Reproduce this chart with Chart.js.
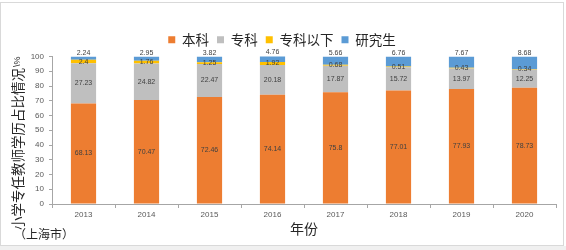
<!DOCTYPE html>
<html>
<head>
<meta charset="utf-8">
<script src="https://cdn.jsdelivr.net/npm/chart.js@4.4.0/dist/chart.umd.min.js"></script>
<style>
  body { margin: 0; background: #fff; }
  #wrap { position: absolute; left: 0; top: 2px; width: 562px; height: 242px; border: 1px solid #d9d9d9; }
  #band { position: absolute; left: 0; top: 246px; width: 566px; height: 4px; background: #f0f0f0; }
</style>
</head>
<body>
<div id="wrap"><canvas id="chart" width="562" height="242"></canvas></div>
<div id="band"></div>
<script>
// chart data
const years = ['2013', '2014', '2015', '2016', '2017', '2018', '2019', '2020'];
const bachelor = [68.13, 70.47, 72.46, 74.14, 75.8, 77.01, 77.93, 78.73];
const college = [27.23, 24.82, 22.47, 20.18, 17.87, 15.72, 13.97, 12.25];
const belowCollege = [2.4, 1.76, 1.25, 1.92, 0.68, 0.51, 0.43, 0.34];
const graduate = [2.24, 2.95, 3.82, 4.76, 5.66, 6.76, 7.67, 8.68];
const seriesNames = ['本科', '专科', '专科以下', '研究生'];
const yTicks = [0, 10, 20, 30, 40, 50, 60, 70, 80, 90, 100];

const colors = ['#ED7D31', '#BFBFBF', '#FFC000', '#5B9BD5'];
const cjk = '"Noto Sans CJK SC", sans-serif';
const latin = '"Liberation Sans", Arial, sans-serif';

// value labels drawn on the bars (no datalabels plugin offline)
const valueLabels = {
  id: 'valueLabels',
  afterDatasetsDraw(chart) {
    const ctx = chart.ctx;
    ctx.save();
    ctx.font = '7px ' + latin;
    ctx.fillStyle = '#404040';
    ctx.textAlign = 'center';
    ctx.textBaseline = 'middle';
    chart.data.datasets.forEach((ds, i) => {
      const meta = chart.getDatasetMeta(i);
      meta.data.forEach((bar, j) => {
        const y = i === 3 ? bar.y - 3 : (bar.y + bar.base) / 2;
        ctx.fillText(String(ds.data[j]), bar.x, y);
      });
    });
    ctx.restore();
  }
};

// axis titles
const titles = {
  id: 'titles',
  afterDraw(chart) {
    const ctx = chart.ctx;
    const area = chart.chartArea;
    ctx.save();
    ctx.fillStyle = '#262626';
    // rotated y title
    ctx.translate(17, 227);
    ctx.rotate(-Math.PI / 2);
    ctx.textAlign = 'left';
    ctx.textBaseline = 'middle';
    ctx.font = '13.5px ' + cjk;
    const main = '小学专任教师学历占比情况';
    ctx.fillText(main, 0, 0);
    const w = ctx.measureText(main).width;
    ctx.font = '9px ' + latin;
    ctx.fillText('\\%', w + 1, 0);
    ctx.restore();

    ctx.save();
    ctx.fillStyle = '#262626';
    ctx.textBaseline = 'middle';
    ctx.font = '12px ' + cjk;
    ctx.textAlign = 'left';
    ctx.fillText('（上海市）', 13, 231);
    ctx.font = '14px ' + cjk;
    ctx.textAlign = 'center';
    ctx.fillText('年份', (area.left + area.right) / 2, 226);
    ctx.restore();
  }
};

new Chart(document.getElementById('chart'), {
  type: 'bar',
  data: {
    labels: years,
    datasets: [bachelor, college, belowCollege, graduate].map((d, i) => ({
      label: seriesNames[i],
      data: d,
      backgroundColor: colors[i],
      borderWidth: 0,
      barPercentage: 0.4,
      categoryPercentage: 1
    }))
  },
  options: {
    responsive: false,
    animation: false,
    devicePixelRatio: 1,
    layout: { padding: { left: 7, right: 7, top: 22, bottom: 0 } },
    plugins: {
      tooltip: { enabled: false },
      legend: {
        position: 'top',
        labels: {
          boxWidth: 7,
          boxHeight: 7,
          padding: 8,
          color: '#262626',
          font: { size: 13.5, family: cjk }
        }
      }
    },
    scales: {
      x: {
        stacked: true,
        afterFit(scale) { scale.height = 41; },
        grid: { offset: true, drawOnChartArea: false, drawTicks: true, tickLength: 4, color: '#a6a6a6' },
        border: { color: '#a6a6a6' },
        ticks: { padding: 2, color: '#595959', font: { size: 8, family: latin } }
      },
      y: {
        stacked: true,
        min: 0,
        max: 100,
        afterFit(scale) { scale.width = 44; },
        afterBuildTicks(scale) { scale.ticks = yTicks.map(v => ({ value: v })); },
        grid: { drawOnChartArea: false, drawTicks: true, tickLength: 3, color: '#a6a6a6' },
        border: { color: '#a6a6a6' },
        ticks: { padding: 5, color: '#595959', font: { size: 8, family: latin } }
      }
    }
  },
  plugins: [valueLabels, titles]
});
</script>
</body>
</html>
